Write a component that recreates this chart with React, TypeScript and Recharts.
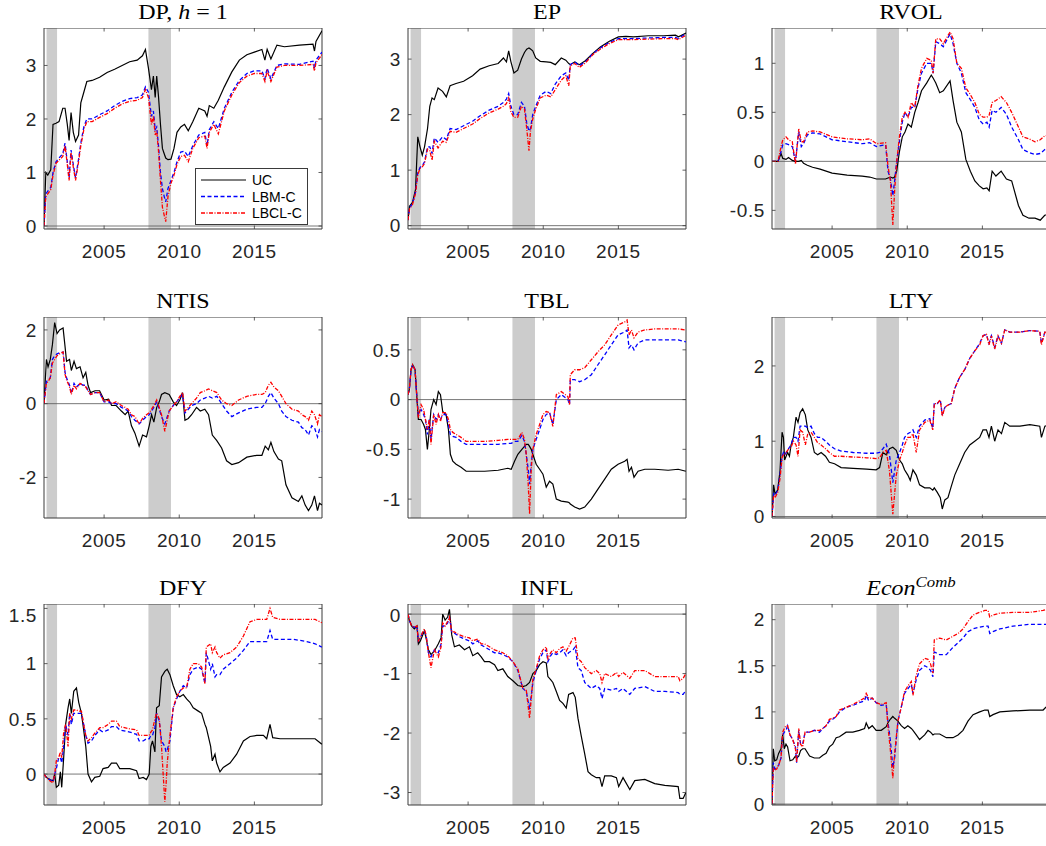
import React from "react";
import { LineChart, Line, XAxis, YAxis, ReferenceArea, ReferenceLine } from "recharts";

const SANS = '"Liberation Sans", Arial, Helvetica, sans-serif';
const SERIF = '"Liberation Serif", "Times New Roman", serif';

const X_DOMAIN: [number, number] = [2001, 2019.5];
const X_TICKS = [2005, 2010, 2015];
const RECESSIONS: [number, number][] = [
  [2001.17, 2001.87],
  [2007.95, 2009.45],
];
const SERIES_NAMES = ["UC", "LBM-C", "LBCL-C"];

// ---- DP, h = 1
const dpDates = [
  2001.0, 2001.12, 2001.25, 2001.45, 2001.6, 2001.8, 2002.0, 2002.25, 2002.4, 2002.55,
  2002.67, 2002.8, 2002.95, 2003.1, 2003.3, 2003.45, 2003.65, 2003.85, 2004.2, 2004.7,
  2005.2, 2005.7, 2006.2, 2006.7, 2007.2, 2007.55, 2007.75, 2007.95, 2008.15, 2008.28,
  2008.4, 2008.5, 2008.62, 2008.75, 2008.88, 2009.0, 2009.1, 2009.25, 2009.45, 2009.65,
  2009.85, 2010.1, 2010.35, 2010.6, 2010.9, 2011.3, 2011.7, 2011.85, 2012.0, 2012.3,
  2012.6, 2013.0, 2013.5, 2014.0, 2014.5, 2015.0, 2015.5, 2015.7, 2015.85, 2016.1,
  2016.5, 2017.0, 2018.0, 2018.9, 2019.0, 2019.1, 2019.5,
];
const dpUC = [
  0.0, 1.0, 0.95, 1.05, 1.9, 1.92, 1.95, 2.2, 2.2, 1.9,
  1.6, 2.12, 1.75, 1.58, 1.7, 2.3, 2.5, 2.7, 2.72, 2.78,
  2.87, 2.93, 3.0, 3.07, 3.1, 3.18, 3.3, 2.95, 2.55, 2.8,
  2.4, 2.8, 2.42, 1.9, 1.45, 1.35, 1.27, 1.24, 1.25, 1.45,
  1.75, 1.85, 1.9, 1.78, 1.95, 2.2, 2.15, 2.05, 2.25, 2.2,
  2.35, 2.6, 2.88, 3.1, 3.2, 3.25, 3.3, 3.1, 3.3, 3.12,
  3.38, 3.35, 3.38, 3.4, 3.27, 3.45, 3.65,
];
const dpLBM = [
  0.0, 0.6, 0.65, 0.72, 1.0, 1.2, 1.27, 1.35, 1.55, 1.2,
  0.9, 1.42, 1.15, 0.9, 1.25, 1.55, 1.85, 2.0, 2.0, 2.08,
  2.15, 2.25, 2.33, 2.38, 2.4, 2.45, 2.6, 2.5, 2.05, 2.15,
  1.8, 1.85, 1.5, 1.0, 0.7, 0.55, 0.45, 0.7, 0.85, 1.0,
  1.2, 1.38, 1.4, 1.3, 1.5, 1.7, 1.75, 1.5, 1.8, 1.95,
  1.82, 2.2, 2.5, 2.72, 2.85, 2.9, 2.9, 2.75, 2.95, 2.75,
  3.0, 3.03, 3.02, 3.08, 2.95, 3.1, 3.25,
];
const dpLBCL = [
  0.0, 0.55, 0.6, 0.68, 0.95, 1.17, 1.23, 1.3, 1.5, 1.15,
  0.85, 1.37, 1.1, 0.85, 1.2, 1.5, 1.8, 1.95, 1.95, 2.03,
  2.1, 2.2, 2.28, 2.33, 2.35, 2.4, 2.55, 2.4, 1.9, 2.05,
  1.7, 1.78, 1.4, 0.85, 0.35, 0.2, 0.08, 0.55, 0.8, 0.95,
  1.15, 1.3, 1.32, 1.2, 1.45, 1.65, 1.68, 1.45, 1.75, 1.9,
  1.72, 2.15, 2.45, 2.68, 2.8, 2.85, 2.85, 2.7, 2.9, 2.7,
  2.97, 3.0, 3.0, 3.02, 2.9, 3.05, 3.2,
];

// ---- EP
const epDates = [
  2001.0, 2001.1, 2001.3, 2001.5, 2001.65, 2001.8, 2001.95, 2002.1, 2002.3, 2002.45,
  2002.6, 2002.75, 2003.0, 2003.3, 2003.55, 2003.8, 2004.2, 2004.7, 2005.3, 2005.8,
  2006.4, 2007.0, 2007.35, 2007.55, 2007.7, 2007.85, 2008.05, 2008.3, 2008.55, 2008.75,
  2008.9, 2009.05, 2009.15, 2009.3, 2009.5, 2009.8, 2010.2, 2010.5, 2010.8, 2011.2,
  2011.5, 2011.7, 2011.8, 2012.1, 2012.4, 2012.8, 2013.3, 2013.8, 2014.4, 2015.0,
  2015.5, 2016.0, 2017.0, 2018.0, 2018.8, 2019.0, 2019.5,
];
const epUC = [
  0.1, 0.35, 0.42, 0.65, 1.6, 1.42, 1.27, 1.42, 1.75, 2.15,
  2.3, 2.27, 2.48, 2.42, 2.32, 2.52, 2.56, 2.6, 2.7, 2.82,
  2.88, 2.92, 3.02, 2.95, 3.15, 2.95, 2.75, 2.8, 3.0, 3.12,
  3.18, 3.2, 3.18, 3.15, 3.02, 2.96, 2.95, 2.94, 2.9, 3.02,
  2.98, 2.92, 2.9, 2.95, 2.9, 2.97, 3.1, 3.22, 3.32, 3.4,
  3.41, 3.4, 3.42, 3.42, 3.43, 3.4, 3.47,
];
const epLBM = [
  0.1, 0.32, 0.4, 0.6, 0.95, 1.05, 1.08, 1.15, 1.42, 1.42,
  1.3, 1.58, 1.5, 1.6, 1.55, 1.75, 1.73, 1.8, 1.88, 1.98,
  2.08, 2.15, 2.22, 2.28, 2.38, 2.15, 2.0, 2.0, 2.22, 2.15,
  1.85, 1.7, 1.75, 2.0, 2.15, 2.35, 2.42, 2.38, 2.55, 2.7,
  2.75, 2.62, 2.9, 2.95, 2.88, 2.95, 3.1, 3.2, 3.3, 3.37,
  3.37, 3.37, 3.38, 3.39, 3.39, 3.37, 3.46,
];
const epLBCL = [
  0.1, 0.3, 0.38, 0.58, 0.92, 1.03, 1.06, 1.12, 1.38, 1.35,
  1.18, 1.52, 1.4, 1.52, 1.5, 1.7, 1.68, 1.75, 1.83, 1.93,
  2.03, 2.1, 2.15, 2.2, 2.3, 2.05, 1.95, 1.95, 2.15, 2.1,
  1.75, 1.35, 1.7, 1.92, 2.1, 2.3, 2.35, 2.32, 2.45, 2.62,
  2.7, 2.52, 2.88, 2.92, 2.85, 2.93, 3.08, 3.18, 3.28, 3.35,
  3.35, 3.35, 3.36, 3.37, 3.37, 3.35, 3.43,
];

// ---- RVOL
const rvolDates = [
  2001.0, 2001.4, 2001.6, 2001.72, 2001.93, 2002.1, 2002.35, 2002.56, 2002.78, 2002.95,
  2003.1, 2003.35, 2003.7, 2004.2, 2005.0, 2006.0, 2007.0, 2007.5, 2007.95, 2008.56,
  2008.72, 2008.88, 2009.04, 2009.16, 2009.3, 2009.48, 2009.67, 2009.85, 2010.05, 2010.27,
  2010.5, 2010.72, 2010.95, 2011.3, 2011.6, 2011.72, 2011.9, 2012.16, 2012.4, 2012.85,
  2013.05, 2013.3, 2013.6, 2013.9, 2014.2, 2014.5, 2014.8, 2015.05, 2015.3, 2015.45,
  2015.65, 2015.9, 2016.25, 2016.6, 2016.95, 2017.4, 2017.7, 2018.1, 2018.5, 2018.85,
  2019.15, 2019.5,
];
const rvolUC = [
  0.0, 0.0, 0.08, 0.03, 0.02, 0.04, 0.01, 0.0, 0.0, 0.01,
  -0.02, -0.04, -0.06, -0.08, -0.12, -0.14, -0.15, -0.16, -0.18, -0.18,
  -0.17, -0.16, -0.17, -0.16, -0.1, 0.1, 0.25, 0.3, 0.38, 0.35,
  0.5, 0.6, 0.72, 0.8, 0.88, 0.85, 0.8, 0.7, 0.72, 0.82,
  0.62, 0.4, 0.3, 0.02, -0.1, -0.2, -0.25, -0.28, -0.27, -0.3,
  -0.1, -0.15, -0.1, -0.18, -0.2, -0.45, -0.55, -0.58, -0.58, -0.6,
  -0.55, -0.53,
];
const rvolLBM = [
  0.0, 0.0, 0.1, 0.17, 0.18, 0.17, 0.15, 0.0, 0.3, 0.15,
  0.18, 0.27, 0.29, 0.28, 0.22, 0.2, 0.18, 0.19, 0.15, 0.17,
  -0.1, -0.18, -0.35, -0.2, 0.0, 0.2, 0.4, 0.5, 0.45, 0.55,
  0.55, 0.75, 0.9, 1.0, 1.0, 0.9, 1.22, 1.2, 1.17, 1.3,
  1.2, 1.0, 0.9, 0.7, 0.63, 0.55, 0.42, 0.38, 0.4, 0.35,
  0.52, 0.5, 0.55, 0.48, 0.35, 0.22, 0.12, 0.09, 0.07, 0.08,
  0.12, 0.13,
];
const rvolLBCL = [
  0.0, 0.0, 0.15, 0.22, 0.25, 0.22, 0.2, -0.03, 0.33, 0.2,
  0.2, 0.3, 0.31, 0.3, 0.25, 0.23, 0.22, 0.23, 0.18, 0.19,
  -0.05, -0.2, -0.65, -0.3, 0.0, 0.25, 0.45, 0.5, 0.45, 0.6,
  0.55, 0.78, 0.95, 1.05, 1.03, 0.9, 1.25, 1.25, 1.2, 1.32,
  1.25, 1.0, 0.95, 0.75, 0.68, 0.6, 0.48, 0.45, 0.45, 0.47,
  0.6, 0.62, 0.66, 0.6, 0.5, 0.35, 0.25, 0.23, 0.2, 0.22,
  0.26, 0.27,
];

// ---- NTIS
const ntisDates = [
  2001.0, 2001.16, 2001.27, 2001.42, 2001.56, 2001.71, 2001.87, 2002.04, 2002.27, 2002.4,
  2002.5, 2002.7, 2002.82, 2003.0, 2003.16, 2003.4, 2003.6, 2003.78, 2003.93, 2004.1,
  2004.4, 2004.7, 2005.0, 2005.3, 2005.5, 2005.8, 2006.15, 2006.4, 2006.6, 2006.82,
  2007.05, 2007.33, 2007.56, 2007.82, 2008.0, 2008.16, 2008.31, 2008.5, 2008.67, 2008.82,
  2009.04, 2009.33, 2009.6, 2009.82, 2010.04, 2010.22, 2010.38, 2010.6, 2010.82, 2011.15,
  2011.4, 2011.7, 2011.95, 2012.2, 2012.5, 2012.82, 2013.15, 2013.5, 2013.95, 2014.5,
  2015.15, 2015.5, 2015.72, 2015.93, 2016.1, 2016.3, 2016.6, 2016.82, 2017.1, 2017.5,
  2017.93, 2018.16, 2018.38, 2018.6, 2018.82, 2019.0, 2019.2, 2019.33, 2019.5,
];
const ntisUC = [
  0.0, 1.2, 1.0, 1.2, 1.6, 2.2, 1.9, 2.0, 2.05, 1.55,
  1.15, 1.2, 0.9, 1.15, 0.95, 1.0, 0.7, 0.85, 0.5, 0.3,
  0.35, 0.35, 0.1, 0.12, -0.05, -0.05, -0.2, -0.3, -0.2, -0.6,
  -0.8, -1.15, -0.85, -0.9, -0.6, -0.3, -0.5, -0.1, 0.05, 0.25,
  0.3, 0.25, 0.05, -0.05, 0.1, 0.3, -0.45, -0.4, -0.3, -0.1,
  -0.2, -0.15, -0.3, -0.85, -1.0, -1.2, -1.55, -1.65, -1.6, -1.45,
  -1.4, -1.4, -1.15, -1.25, -1.05, -1.3, -1.5, -1.55, -2.2, -2.55,
  -2.65, -2.5, -2.75, -2.9, -2.75, -2.5, -2.9, -2.7, -2.75,
];
const ntisLBM = [
  0.0, 0.6, 0.65, 0.7, 1.2, 1.3, 1.35, 1.38, 1.4, 0.85,
  0.7, 0.5, 0.28, 0.55, 0.45, 0.55, 0.5, 0.5, 0.35, 0.25,
  0.3, 0.3, 0.05, 0.05, 0.0, 0.0, -0.1, -0.15, -0.2, -0.35,
  -0.45, -0.55, -0.45, -0.35, -0.3, -0.2, -0.1, 0.05, -0.15, -0.35,
  -0.55, -0.2, -0.05, 0.05, 0.15, 0.25, -0.25, -0.15, -0.05, 0.0,
  0.1, 0.15, 0.2, 0.15, 0.2, 0.0, -0.2, -0.35, -0.25, -0.15,
  -0.1, -0.1, 0.0, 0.2, 0.3, 0.15, 0.0, -0.2, -0.35, -0.45,
  -0.5, -0.65, -0.7, -0.85, -0.6, -0.65, -0.9, -0.7, -0.75,
];
const ntisLBCL = [
  0.0, 0.55, 0.6, 0.7, 1.1, 1.2, 1.3, 1.35, 1.4, 0.8,
  0.65, 0.45, 0.25, 0.5, 0.4, 0.55, 0.5, 0.45, 0.35, 0.25,
  0.3, 0.3, 0.05, 0.1, 0.0, 0.05, -0.05, -0.1, -0.15, -0.3,
  -0.35, -0.55, -0.4, -0.3, -0.25, -0.15, -0.05, 0.1, -0.1, -0.3,
  -0.75, -0.2, -0.05, 0.05, 0.2, 0.3, -0.2, -0.1, 0.0, 0.15,
  0.3, 0.35, 0.4, 0.35, 0.3, 0.1, 0.0, -0.05, 0.1, 0.2,
  0.25, 0.25, 0.3, 0.5, 0.58, 0.45, 0.35, 0.2, 0.0, -0.15,
  -0.2, -0.3, -0.35, -0.45, -0.2, -0.3, -0.55, -0.3, -0.35,
];

// ---- TBL
const tblDates = [
  2001.0, 2001.09, 2001.2, 2001.31, 2001.47, 2001.6, 2001.69, 2001.87, 2002.04, 2002.16,
  2002.29, 2002.42, 2002.53, 2002.71, 2002.87, 2003.02, 2003.16, 2003.31, 2003.53, 2003.69,
  2003.82, 2003.98, 2004.2, 2004.53, 2004.87, 2005.42, 2006.1, 2007.0, 2007.64, 2007.87,
  2008.09, 2008.31, 2008.58, 2008.75, 2008.87, 2009.0, 2009.09, 2009.2, 2009.31, 2009.53,
  2009.76, 2009.98, 2010.2, 2010.42, 2010.64, 2010.87, 2011.2, 2011.64, 2011.75, 2011.8,
  2012.09, 2012.42, 2012.76, 2013.2, 2013.64, 2014.09, 2014.53, 2014.98, 2015.42, 2015.58,
  2015.71, 2015.87, 2016.04, 2016.31, 2016.76, 2017.42, 2018.31, 2018.98, 2019.49,
];
const tblUC = [
  0.05, 0.1, 0.3, 0.35, 0.3, 0.0, -0.2, -0.2, -0.25, -0.3,
  -0.5, -0.3, -0.1, 0.0, -0.05, 0.08, 0.05, -0.12, -0.15, -0.3,
  -0.55, -0.62, -0.65, -0.68, -0.72, -0.72, -0.72, -0.71, -0.69, -0.7,
  -0.62, -0.55, -0.5, -0.47, -0.45, -0.45, -0.47, -0.5, -0.55, -0.65,
  -0.7, -0.75, -0.88, -0.82, -0.85, -1.0, -1.02, -1.03, -1.04, -1.05,
  -1.08, -1.1, -1.08, -1.0, -0.9, -0.8, -0.7, -0.65, -0.62, -0.6,
  -0.72, -0.68, -0.78, -0.72, -0.7, -0.7, -0.71, -0.7, -0.72,
];
const tblLBM = [
  0.05, 0.1, 0.3, 0.35, 0.3, 0.0, -0.15, -0.1, -0.15, -0.2,
  -0.35, -0.2, -0.4, -0.15, -0.2, -0.15, -0.2, -0.15, -0.15, -0.25,
  -0.35, -0.37, -0.38, -0.42, -0.45, -0.45, -0.45, -0.45, -0.44, -0.44,
  -0.42, -0.42, -0.36, -0.42, -0.55, -0.7, -0.85, -0.65, -0.5, -0.4,
  -0.3, -0.2, -0.15, -0.13, -0.25, 0.0, 0.05, 0.0, -0.05, 0.2,
  0.2, 0.18, 0.2, 0.25, 0.35, 0.45, 0.55, 0.65, 0.68, 0.7,
  0.52, 0.55, 0.5, 0.57, 0.6, 0.6, 0.6, 0.6, 0.58,
];
const tblLBCL = [
  0.05, 0.1, 0.3, 0.35, 0.3, 0.0, -0.18, -0.05, -0.1, -0.2,
  -0.3, -0.2, -0.45, -0.15, -0.25, -0.15, -0.22, -0.13, -0.13, -0.2,
  -0.3, -0.33, -0.35, -0.38, -0.42, -0.42, -0.42, -0.41, -0.4, -0.4,
  -0.4, -0.4, -0.33, -0.4, -0.55, -0.85, -1.15, -0.7, -0.5, -0.35,
  -0.25, -0.15, -0.12, -0.13, -0.27, 0.05, 0.08, 0.03, -0.05, 0.25,
  0.3, 0.3, 0.32, 0.4, 0.48, 0.55, 0.65, 0.75, 0.78, 0.8,
  0.65, 0.7, 0.62, 0.68, 0.7, 0.71, 0.71, 0.71, 0.7,
];

// ---- LTY
const ltyDates = [
  2001.0, 2001.11, 2001.2, 2001.38, 2001.53, 2001.67, 2001.76, 2001.84, 2002.04, 2002.16,
  2002.27, 2002.42, 2002.6, 2002.73, 2002.87, 2003.04, 2003.22, 2003.38, 2003.6, 2003.82,
  2004.04, 2004.27, 2004.56, 2004.82, 2005.16, 2005.6, 2006.4, 2007.3, 2007.93, 2008.16,
  2008.38, 2008.6, 2008.82, 2009.04, 2009.27, 2009.49, 2009.67, 2009.82, 2010.04, 2010.2,
  2010.38, 2010.6, 2010.82, 2011.16, 2011.5, 2011.7, 2011.8, 2012.0, 2012.2, 2012.33,
  2012.5, 2012.71, 2012.93, 2013.16, 2013.49, 2013.82, 2014.16, 2014.49, 2014.82, 2015.04,
  2015.27, 2015.44, 2015.6, 2015.82, 2016.04, 2016.27, 2016.49, 2016.82, 2017.5, 2018.16,
  2018.82, 2018.93, 2019.16, 2019.5,
];
const ltyUC = [
  0.0, 0.42, 0.3, 0.35, 0.6, 1.12, 1.05, 0.75, 0.85, 0.8,
  0.95, 1.05, 1.32, 1.25, 1.38, 1.43, 1.35, 1.15, 1.05, 0.85,
  0.82, 0.85, 0.8, 0.72, 0.7, 0.65, 0.64, 0.63, 0.62, 0.65,
  0.85, 0.82, 0.9, 0.92, 0.88, 0.75, 0.7, 0.62, 0.55, 0.48,
  0.62, 0.55, 0.42, 0.38, 0.38, 0.35, 0.38, 0.32, 0.25, 0.1,
  0.22, 0.25, 0.4, 0.55, 0.7, 0.85, 0.95, 1.0, 1.05, 1.15,
  1.15, 1.05, 1.2, 1.0, 1.15, 1.1, 1.25, 1.2, 1.2, 1.22,
  1.2, 1.05, 1.2, 1.22,
];
const ltyLBM = [
  0.0, 0.3, 0.28, 0.35, 0.55, 0.8, 0.85, 0.82, 0.88, 0.92,
  0.95, 1.05, 1.05, 1.0, 1.2, 1.2, 1.2, 1.18, 1.2, 1.1,
  1.05, 1.05, 1.0, 0.95, 0.9, 0.87, 0.85, 0.84, 0.84, 0.85,
  0.9, 0.96, 0.82, 0.45, 0.75, 0.85, 0.95, 1.05, 1.1, 1.12,
  1.15, 1.05, 1.2, 1.28, 1.3, 1.17, 1.5, 1.5, 1.55, 1.35,
  1.45, 1.48, 1.5, 1.7, 1.85, 1.95, 2.1, 2.2, 2.3, 2.4,
  2.42, 2.3, 2.4, 2.25, 2.4, 2.3, 2.48, 2.45, 2.45, 2.47,
  2.46, 2.3, 2.45, 2.45,
];
const ltyLBCL = [
  0.0, 0.28, 0.25, 0.32, 0.5, 0.78, 0.82, 0.82, 0.88, 0.9,
  0.92, 1.0, 0.95, 0.8, 1.15, 1.12, 0.95, 1.1, 1.12, 1.05,
  0.98, 0.95, 0.9, 0.85, 0.8, 0.8, 0.79, 0.78, 0.77, 0.78,
  0.85, 0.88, 0.6, 0.03, 0.55, 0.75, 0.85, 0.95, 1.05, 1.05,
  1.1, 0.85, 1.15, 1.25, 1.28, 1.15, 1.5, 1.5, 1.55, 1.33,
  1.45, 1.48, 1.5, 1.7, 1.85, 1.95, 2.1, 2.2, 2.28, 2.4,
  2.42, 2.28, 2.4, 2.22, 2.4, 2.3, 2.48, 2.45, 2.45, 2.47,
  2.46, 2.28, 2.45, 2.45,
];

// ---- DFY
const dfyDates = [
  2001.0, 2001.16, 2001.38, 2001.6, 2001.71, 2001.82, 2001.98, 2002.09, 2002.18, 2002.31,
  2002.44, 2002.6, 2002.71, 2002.82, 2002.98, 2003.16, 2003.31, 2003.49, 2003.64, 2003.78,
  2003.93, 2004.16, 2004.38, 2004.71, 2004.93, 2005.27, 2005.49, 2005.82, 2006.04, 2006.71,
  2007.16, 2007.33, 2007.6, 2007.82, 2008.0, 2008.11, 2008.22, 2008.38, 2008.49, 2008.67,
  2008.82, 2009.04, 2009.12, 2009.2, 2009.38, 2009.6, 2009.82, 2010.04, 2010.27, 2010.49,
  2010.71, 2010.93, 2011.27, 2011.49, 2011.71, 2011.8, 2012.09, 2012.2, 2012.38, 2012.49,
  2012.71, 2012.93, 2013.38, 2013.82, 2014.27, 2014.71, 2015.16, 2015.6, 2015.82, 2016.04,
  2016.22, 2016.71, 2017.6, 2018.49, 2019.04, 2019.49,
];
const dfyUC = [
  0.0, -0.03, -0.05, -0.06, 0.0, -0.12, -0.1, 0.02, -0.12, 0.15,
  0.45, 0.6, 0.68, 0.55, 0.75, 0.78, 0.65, 0.55, 0.4, 0.25,
  0.0, -0.07, -0.03, -0.02, 0.05, 0.06, 0.1, 0.1, 0.05, 0.05,
  0.03, -0.04, -0.03, -0.05, 0.0, 0.25, 0.3, 0.2, 0.6, 0.62,
  0.88, 0.93, 0.94, 0.95, 0.9, 0.8, 0.72, 0.7, 0.72, 0.68,
  0.65, 0.6, 0.57, 0.55, 0.45, 0.42, 0.25, 0.12, 0.18, 0.1,
  0.02, 0.06, 0.1, 0.18, 0.3, 0.34, 0.35, 0.35, 0.32, 0.45,
  0.33, 0.32, 0.32, 0.32, 0.32, 0.27,
];
const dfyLBM = [
  0.0, -0.03, -0.05, -0.07, 0.0, 0.05, 0.15, 0.15, 0.1, 0.25,
  0.45, 0.35, 0.55, 0.45, 0.55, 0.55, 0.55, 0.55, 0.45, 0.35,
  0.28, 0.3, 0.35, 0.4, 0.38, 0.4, 0.43, 0.43, 0.4, 0.38,
  0.36, 0.3, 0.3, 0.32, 0.32, 0.35, 0.35, 0.42, 0.55, 0.48,
  0.3, 0.25, 0.2, 0.22, 0.3, 0.6, 0.68, 0.75, 0.8, 0.78,
  0.9, 0.95, 0.97, 0.95, 0.82, 1.1, 0.95, 1.0, 0.88, 0.9,
  0.9, 0.95, 1.0, 1.05, 1.12, 1.2, 1.2, 1.2, 1.2, 1.3,
  1.22, 1.22, 1.22, 1.2, 1.18, 1.15,
];
const dfyLBCL = [
  0.0, -0.03, -0.06, -0.08, 0.0, 0.12, 0.15, 0.2, 0.15, 0.38,
  0.45, 0.25, 0.55, 0.5, 0.58, 0.58, 0.57, 0.57, 0.45, 0.35,
  0.3, 0.33, 0.37, 0.42, 0.42, 0.45, 0.48, 0.48, 0.43, 0.41,
  0.4, 0.35, 0.35, 0.35, 0.35, 0.38, 0.4, 0.5, 0.55, 0.5,
  0.25, -0.25, -0.1, 0.1, 0.35, 0.6, 0.7, 0.75, 0.78, 0.78,
  0.95, 1.0, 1.0, 0.97, 0.82, 1.15, 1.18, 1.1, 1.15, 1.1,
  1.05, 1.08, 1.1, 1.15, 1.25, 1.38, 1.4, 1.4, 1.4, 1.5,
  1.42, 1.4, 1.4, 1.4, 1.4, 1.37,
];

// ---- INFL
const inflDates = [
  2001.0, 2001.09, 2001.24, 2001.42, 2001.6, 2001.69, 2001.82, 2001.98, 2002.09, 2002.2,
  2002.36, 2002.53, 2002.76, 2003.02, 2003.2, 2003.31, 2003.47, 2003.64, 2003.76, 2003.91,
  2004.09, 2004.42, 2004.76, 2005.09, 2005.31, 2005.64, 2005.87, 2006.09, 2006.42, 2006.76,
  2006.98, 2007.31, 2007.64, 2007.98, 2008.31, 2008.64, 2008.87, 2009.09, 2009.31, 2009.53,
  2009.76, 2009.98, 2010.2, 2010.31, 2010.49, 2010.64, 2010.87, 2011.09, 2011.31, 2011.53,
  2011.69, 2011.98, 2012.13, 2012.31, 2012.53, 2012.76, 2012.98, 2013.2, 2013.53, 2013.76,
  2013.91, 2014.09, 2014.53, 2014.87, 2015.02, 2015.31, 2015.76, 2016.09, 2016.76, 2017.42,
  2018.09, 2018.98, 2019.09, 2019.31, 2019.49,
];
const inflUC = [
  0.0, -0.1, -0.2, -0.25, -0.2, -0.5, -0.45, -0.35, -0.28, -0.4,
  -0.6, -0.68, -0.62, -0.5, -0.4, 0.0, -0.1, -0.05, 0.08, -0.35,
  -0.55, -0.52, -0.6, -0.55, -0.7, -0.65, -0.72, -0.8, -0.8, -0.85,
  -0.95, -0.92, -1.05, -1.12, -1.2, -1.22, -1.2, -1.15, -1.0, -0.95,
  -0.85, -0.8, -0.82, -1.05, -1.1, -1.15, -1.3, -1.45, -1.5, -1.58,
  -1.35, -1.32, -1.4, -1.75, -2.05, -2.35, -2.65, -2.7, -2.75, -2.75,
  -2.9, -2.72, -2.72, -2.75, -2.9, -2.75, -2.95, -2.8, -2.78, -2.85,
  -2.88, -2.9, -3.1, -3.1, -3.0,
];
const inflLBM = [
  0.0, -0.1, -0.2, -0.22, -0.2, -0.45, -0.4, -0.3, -0.28, -0.35,
  -0.65, -0.72, -0.6, -0.65, -0.5, -0.2, -0.2, -0.15, -0.05, -0.3,
  -0.32, -0.38, -0.42, -0.45, -0.5, -0.45, -0.52, -0.55, -0.6, -0.65,
  -0.65, -0.68, -0.72, -0.8, -0.95, -1.25, -1.3, -1.6, -1.15, -0.95,
  -0.75, -0.65, -0.6, -0.8, -0.7, -0.65, -0.68, -0.65, -0.6, -0.7,
  -0.65, -0.6, -0.55, -0.9, -0.95, -1.15, -1.2, -1.25, -1.2, -1.25,
  -1.42, -1.25, -1.28, -1.25, -1.3, -1.25, -1.35, -1.25, -1.22, -1.3,
  -1.3, -1.32, -1.35, -1.35, -1.28,
];
const inflLBCL = [
  0.0, -0.1, -0.2, -0.22, -0.2, -0.45, -0.4, -0.3, -0.25, -0.35,
  -0.65, -0.9, -0.6, -0.72, -0.55, -0.15, -0.2, -0.12, -0.05, -0.3,
  -0.3, -0.35, -0.38, -0.4, -0.45, -0.42, -0.5, -0.5, -0.55, -0.6,
  -0.62, -0.65, -0.7, -0.8, -0.92, -1.25, -1.28, -1.75, -1.1, -0.92,
  -0.7, -0.6, -0.55, -0.75, -0.65, -0.6, -0.65, -0.58, -0.55, -0.62,
  -0.55, -0.4, -0.4, -0.75, -0.8, -0.9, -0.95, -1.0, -0.95, -1.0,
  -1.15, -1.0, -1.05, -0.98, -1.05, -0.98, -1.08, -0.95, -0.95, -1.05,
  -1.05, -1.05, -1.12, -1.08, -1.0,
];

// ---- Econ^Comb
const econDates = [
  2001.0, 2001.09, 2001.18, 2001.31, 2001.44, 2001.6, 2001.71, 2001.82, 2001.93, 2002.04,
  2002.2, 2002.38, 2002.56, 2002.64, 2002.78, 2002.9, 2003.04, 2003.2, 2003.5, 2003.82,
  2004.16, 2004.38, 2004.6, 2004.82, 2005.04, 2005.27, 2005.49, 2005.93, 2006.38, 2006.82,
  2007.16, 2007.27, 2007.44, 2007.67, 2007.93, 2008.27, 2008.6, 2008.71, 2008.87, 2009.04,
  2009.16, 2009.38, 2009.6, 2009.82, 2010.04, 2010.27, 2010.38, 2010.6, 2010.82, 2011.16,
  2011.38, 2011.55, 2011.71, 2011.8, 2012.16, 2012.6, 2013.04, 2013.38, 2013.71, 2014.04,
  2014.38, 2014.82, 2015.16, 2015.38, 2015.49, 2015.71, 2016.16, 2017.04, 2018.16, 2019.04,
  2019.22, 2019.5,
];
const econUC = [
  0.0, 0.6, 0.47, 0.48, 0.55, 0.6, 0.75, 0.6, 0.65, 0.62,
  0.47, 0.48, 0.52, 0.5, 0.52, 0.58, 0.6, 0.6, 0.52, 0.5,
  0.5, 0.53, 0.55, 0.62, 0.65, 0.72, 0.73, 0.78, 0.78, 0.8,
  0.82, 0.88, 0.82, 0.85, 0.8, 0.8, 0.84, 0.88, 0.92, 0.95,
  0.93, 0.9, 0.85, 0.82, 0.85, 0.82, 0.8, 0.75, 0.7, 0.75,
  0.8, 0.78, 0.75, 0.76, 0.76, 0.72, 0.72, 0.75, 0.8, 0.9,
  0.97, 1.0, 1.02, 1.02, 0.95, 0.97, 1.0, 1.01, 1.02, 1.02,
  1.05, 1.06,
];
const econLBM = [
  0.0, 0.45, 0.38, 0.4, 0.42, 0.5, 0.75, 0.78, 0.8, 0.85,
  0.75, 0.7, 0.62, 0.45, 0.8, 0.65, 0.65, 0.78, 0.78, 0.8,
  0.78, 0.82, 0.85, 0.9, 0.92, 0.95, 1.0, 1.05, 1.07, 1.1,
  1.12, 1.18, 1.12, 1.15, 1.1, 1.07, 1.08, 0.9, 0.7, 0.4,
  0.5, 0.9, 1.05, 1.2, 1.25, 1.3, 1.2, 1.35, 1.45, 1.5,
  1.48, 1.45, 1.38, 1.65, 1.62, 1.62, 1.7, 1.75, 1.8, 1.87,
  1.9, 1.92, 1.93, 1.93, 1.85, 1.87, 1.9, 1.93, 1.95, 1.95,
  1.95, 1.96,
];
const econLBCL = [
  0.0, 0.4, 0.37, 0.38, 0.42, 0.5, 0.78, 0.82, 0.85, 0.85,
  0.75, 0.7, 0.6, 0.45, 0.82, 0.65, 0.62, 0.78, 0.78, 0.8,
  0.8, 0.82, 0.85, 0.92, 0.93, 0.95, 1.02, 1.05, 1.08, 1.12,
  1.15, 1.2, 1.15, 1.15, 1.1, 1.08, 1.1, 0.85, 0.6, 0.28,
  0.55, 0.9, 1.05, 1.22, 1.28, 1.33, 1.18, 1.4, 1.52, 1.58,
  1.57, 1.52, 1.42, 1.78, 1.8, 1.78, 1.82, 1.85, 1.9, 1.98,
  2.05, 2.08, 2.1, 2.1, 2.03, 2.05, 2.07, 2.08, 2.08, 2.1,
  2.11, 2.12,
];

// layout of the 3x3 grid (plot-area boxes)
const PLOT_LEFT = [44, 408, 772];
const PLOT_TOP = [28, 317, 604];
const PLOT_W = 278;
const PLOT_H = 201;
const Y_AXIS_W = 44;
const X_AXIS_H = 40;
const TICK_PX = 3.5;

const STYLE = {
  uc: { stroke: "#000000", width: 1.2, dash: undefined as string | undefined },
  lbm: { stroke: "#0000ff", width: 1.3, dash: "4 2.5" },
  lbcl: { stroke: "#ff0000", width: 1.3, dash: "4 1.5 1 1.5" },
};

type PanelSpec = {
  title: React.ReactNode;
  dates: number[];
  uc: number[];
  lbm: number[];
  lbcl: number[];
  yDomain: [number, number];
  yTicks: number[];
  legend?: boolean;
};

const panels: PanelSpec[] = [
  { title: <>DP, <i>h</i> = 1</>, dates: dpDates, uc: dpUC, lbm: dpLBM, lbcl: dpLBCL, yDomain: [-0.056, 3.7], yTicks: [0, 1, 2, 3], legend: true },
  { title: "EP", dates: epDates, uc: epUC, lbm: epLBM, lbcl: epLBCL, yDomain: [-0.06, 3.56], yTicks: [0, 1, 2, 3] },
  { title: "RVOL", dates: rvolDates, uc: rvolUC, lbm: rvolLBM, lbcl: rvolLBCL, yDomain: [-0.69, 1.36], yTicks: [-0.5, 0, 0.5, 1] },
  { title: "NTIS", dates: ntisDates, uc: ntisUC, lbm: ntisLBM, lbcl: ntisLBCL, yDomain: [-3.1, 2.35], yTicks: [-2, 0, 2] },
  { title: "TBL", dates: tblDates, uc: tblUC, lbm: tblLBM, lbcl: tblLBCL, yDomain: [-1.19, 0.83], yTicks: [-1, -0.5, 0, 0.5] },
  { title: "LTY", dates: ltyDates, uc: ltyUC, lbm: ltyLBM, lbcl: ltyLBCL, yDomain: [-0.02, 2.65], yTicks: [0, 1, 2] },
  { title: "DFY", dates: dfyDates, uc: dfyUC, lbm: dfyLBM, lbcl: dfyLBCL, yDomain: [-0.28, 1.54], yTicks: [0, 0.5, 1, 1.5] },
  { title: "INFL", dates: inflDates, uc: inflUC, lbm: inflLBM, lbcl: inflLBCL, yDomain: [-3.21, 0.17], yTicks: [-3, -2, -1, 0] },
  {
    title: (
      <>
        <i>Econ</i>
        <i style={{ fontSize: 14, position: "relative", top: -8 }}>Comb</i>
      </>
    ),
    dates: econDates, uc: econUC, lbm: econLBM, lbcl: econLBCL, yDomain: [-0.01, 2.17], yTicks: [0, 0.5, 1, 1.5, 2],
  },
];

const tickFont = { fontFamily: SANS, fontSize: 19, fill: "#262626", letterSpacing: 0.6 };

function Legend({ left, top }: { left: number; top: number }) {
  const keys = ["uc", "lbm", "lbcl"] as const;
  return (
    <div
      style={{
        position: "absolute", left, top, width: 113, height: 57,
        background: "#fff", border: "1px solid #3a3a3a", boxSizing: "border-box",
      }}
    >
      <svg width={111} height={55} style={{ position: "absolute", left: 0, top: 0 }}>
        {keys.map((k, i) => (
          <g key={k}>
            <line x1={5} x2={50} y1={11 + i * 16.5} y2={11 + i * 16.5}
              stroke={STYLE[k].stroke} strokeWidth={STYLE[k].width} strokeDasharray={STYLE[k].dash} />
            <text x={56} y={16 + i * 16.5} fontFamily={SANS} fontSize={14} fill="#000">{SERIES_NAMES[i]}</text>
          </g>
        ))}
      </svg>
    </div>
  );
}

function Panel({ p, col, row }: { p: PanelSpec; col: number; row: number }) {
  const left = PLOT_LEFT[col];
  const top = PLOT_TOP[row];
  const data = p.dates.map((t, i) => ({ t, uc: p.uc[i], lbm: p.lbm[i], lbcl: p.lbcl[i] }));
  const [y0, y1] = p.yDomain;
  const [x0, x1] = X_DOMAIN;
  const dx = ((x1 - x0) * TICK_PX) / PLOT_W;
  const dy = ((y1 - y0) * TICK_PX) / PLOT_H;
  const axisColor = "#3a3a3a";

  return (
    <>
      <div
        style={{
          position: "absolute", left, top: top - 28, width: PLOT_W, height: 24, lineHeight: "24px",
          textAlign: "center", fontFamily: SERIF, fontSize: 20, color: "#000",
          transform: "scaleX(1.2)", whiteSpace: "nowrap",
        }}
      >
        {p.title}
      </div>
      <div style={{ position: "absolute", left: left - Y_AXIS_W, top }}>
        <LineChart
          width={Y_AXIS_W + PLOT_W + 4}
          height={PLOT_H + X_AXIS_H}
          data={data}
          margin={{ top: 0, right: 4, bottom: 0, left: 0 }}
        >
          <XAxis
            dataKey="t" type="number" domain={X_DOMAIN} ticks={X_TICKS} allowDataOverflow
            axisLine={false} tickLine={false} tickSize={0} tickMargin={16} height={X_AXIS_H}
            tick={tickFont} tickFormatter={(v: number) => String(v)}
          />
          <YAxis
            type="number" domain={p.yDomain} ticks={p.yTicks} allowDataOverflow
            axisLine={false} tickLine={false} tickSize={0} tickMargin={7} width={Y_AXIS_W}
            tick={tickFont} tickFormatter={(v: number) => String(v)}
          />
          {RECESSIONS.map(([a, b]) => (
            <ReferenceArea key={a} x1={a} x2={b} y1={y0} y2={y1} fill="#cccccc" fillOpacity={1} stroke="none" />
          ))}
          <ReferenceLine y={0} stroke="#555555" strokeWidth={0.8} />
          <Line dataKey="uc" type="linear" dot={false} stroke={STYLE.uc.stroke} strokeWidth={STYLE.uc.width} isAnimationActive={false} />
          <Line dataKey="lbm" type="linear" dot={false} stroke={STYLE.lbm.stroke} strokeWidth={STYLE.lbm.width} strokeDasharray={STYLE.lbm.dash} isAnimationActive={false} />
          <Line dataKey="lbcl" type="linear" dot={false} stroke={STYLE.lbcl.stroke} strokeWidth={STYLE.lbcl.width} strokeDasharray={STYLE.lbcl.dash} isAnimationActive={false} />
          <ReferenceArea x1={x0} x2={x1} y1={y0} y2={y1} fill="none" stroke={axisColor} strokeWidth={1} />
          {p.yTicks.map((t) => (
            <ReferenceLine key={`yl${t}`} segment={[{ x: x0, y: t }, { x: x0 + dx, y: t }]} stroke={axisColor} strokeWidth={0.8} />
          ))}
          {p.yTicks.map((t) => (
            <ReferenceLine key={`yr${t}`} segment={[{ x: x1 - dx, y: t }, { x: x1, y: t }]} stroke={axisColor} strokeWidth={0.8} />
          ))}
          {X_TICKS.map((t) => (
            <ReferenceLine key={`xb${t}`} segment={[{ x: t, y: y0 }, { x: t, y: y0 + dy }]} stroke={axisColor} strokeWidth={0.8} />
          ))}
          {X_TICKS.map((t) => (
            <ReferenceLine key={`xt${t}`} segment={[{ x: t, y: y1 - dy }, { x: t, y: y1 }]} stroke={axisColor} strokeWidth={0.8} />
          ))}
        </LineChart>
      </div>
      {p.legend && <Legend left={195} top={168} />}
    </>
  );
}

export default function App() {
  return (
    <div
      style={{
        position: "absolute", left: 0, top: 0, width: 1046, height: 846,
        overflow: "hidden", background: "#ffffff",
      }}
    >
      {panels.map((p, i) => (
        <Panel key={i} p={p} col={i % 3} row={Math.floor(i / 3)} />
      ))}
    </div>
  );
}
